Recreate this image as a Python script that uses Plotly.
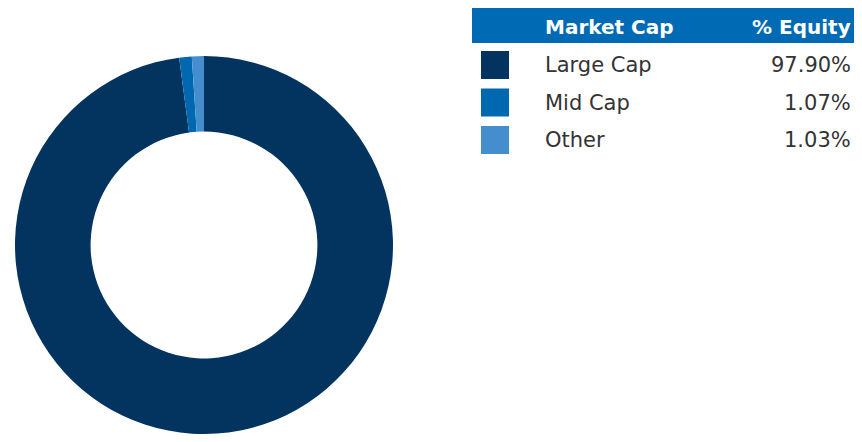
import plotly.graph_objects as go

categories = ["Large Cap", "Mid Cap", "Other"]
values = [97.90, 1.07, 1.03]
colors = ["#02345F", "#0068B1", "#448ECE"]
header = ["Market Cap", "% Equity"]

# the page body has an 8px margin; work in page pixels and convert
OFF = 8
W, H = 862 - 2 * OFF, 442 - 2 * OFF
FONT = "DejaVu Sans"
RIGHT = OFF + W


def px(x):
    return (x - OFF) / W


def py(y):
    return 1 - (y - OFF) / H


fig = go.Figure()
fig.add_trace(go.Pie(
    labels=categories, values=values, hole=0.6, sort=False,
    direction="clockwise", rotation=0,
    marker=dict(colors=colors, line=dict(width=0)),
    textinfo="none", hoverinfo="label+percent", showlegend=False,
    domain=dict(x=[px(15), px(393)], y=[0, py(56)]),
))

shapes = []
annotations = []
# header bar
shapes.append(dict(type="rect", xref="paper", yref="paper",
                   x0=px(472), x1=px(RIGHT), y0=py(43), y1=py(5),
                   fillcolor="#006AB4", line=dict(width=0), layer="below"))
annotations.append(dict(x=px(543), y=py(27), xref="paper", yref="paper",
                        text="<b>%s</b>" % header[0], showarrow=False,
                        xanchor="left", yanchor="middle",
                        font=dict(family=FONT, size=20, color="white")))
annotations.append(dict(x=px(RIGHT - 1), y=py(27), xref="paper", yref="paper",
                        text="<b>%s</b>" % header[1], showarrow=False,
                        xanchor="right", yanchor="middle",
                        font=dict(family=FONT, size=20, color="white")))
row_top = 51
row_step = 37.5
for i, (c, v, col) in enumerate(zip(categories, values, colors)):
    t = row_top + i * row_step
    shapes.append(dict(type="rect", xref="paper", yref="paper",
                       x0=px(481), x1=px(509), y0=py(t + 28), y1=py(t),
                       fillcolor=col, line=dict(width=0)))
    annotations.append(dict(x=px(543), y=py(t + 14), xref="paper", yref="paper",
                            text=c, showarrow=False, xanchor="left", yanchor="middle",
                            font=dict(family=FONT, size=21, color="#333333")))
    annotations.append(dict(x=px(RIGHT - 1), y=py(t + 14), xref="paper", yref="paper",
                            text="%.2f%%" % v, showarrow=False, xanchor="right", yanchor="middle",
                            font=dict(family=FONT, size=21, color="#333333")))

fig.update_layout(width=W, height=H, margin=dict(l=0, r=0, t=0, b=0),
                  paper_bgcolor="white", plot_bgcolor="white",
                  shapes=shapes, annotations=annotations)
fig.write_html("out.html")
